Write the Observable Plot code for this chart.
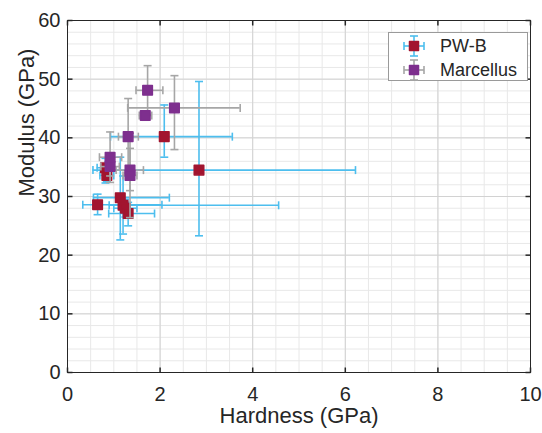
<!DOCTYPE html>
<html><head><meta charset="utf-8">
<script src="https://cdn.jsdelivr.net/npm/d3@7"></script>
<script src="https://cdn.jsdelivr.net/npm/@observablehq/plot@0.6"></script>
<style>
body{margin:0;background:#fff;font-family:"Liberation Sans",Arial,sans-serif;}
#wrap{position:relative;width:542px;height:433px;overflow:hidden;}
#legend{position:absolute;left:388px;top:32px;width:140px;height:49px;border:1px solid #9a9a9a;background:#fff;box-sizing:border-box;}
.row{position:absolute;left:0;height:24px;display:flex;align-items:center;}
.row span{font-size:18px;color:#262626;margin-left:13px;}
</style></head><body><div id="wrap"></div>
<script>
// PW-B (hardness x, modulus y) with error-bar bounds
const pwbX    = [2.09, 2.84, 0.65, 1.14, 1.20, 1.25, 1.31, 0.82, 0.85];
const pwbY    = [40.2, 34.5, 28.6, 29.8, 28.5, 28.0, 27.1, 34.9, 33.6];
const pwbXLo  = [0.93, 0.55, 0.33, 0.56, 0.90, 1.00, 0.89, 0.64, 0.70];
const pwbXHi  = [3.56, 6.22, 2.04, 2.20, 4.56, 1.50, 1.88, 1.00, 1.00];
const pwbYLo  = [36.7, 23.3, 26.9, 22.6, 23.6, 26.5, 25.0, 32.3, 32.5];
const pwbYHi  = [45.6, 49.6, 30.4, 36.7, 33.5, 29.5, 29.0, 36.5, 34.7];
// Marcellus
const marX    = [1.73, 2.31, 1.68, 1.31, 0.92, 0.92, 1.35, 1.35];
const marY    = [48.1, 45.1, 43.8, 40.2, 36.7, 35.1, 34.5, 33.6];
const marXLo  = [1.48, 1.30, 1.55, 1.10, 0.69, 0.72, 1.05, 1.20];
const marXHi  = [2.06, 3.73, 1.82, 1.53, 1.17, 1.12, 1.64, 1.50];
const marYLo  = [44.0, 38.0, 43.0, 34.0, 32.4, 33.5, 31.0, 26.4];
const marYHi  = [52.3, 50.6, 44.6, 46.7, 41.0, 36.7, 38.2, 40.8];

const seriesNames = ["PW-B", "Marcellus"];
const xTicks = [0, 2, 4, 6, 8, 10];
const yTicks = [0, 10, 20, 30, 40, 50, 60];
const xMinor = d3.range(0, 10.01, 0.5);
const yMinor = d3.range(0, 60.01, 2);

const BLUE = "#4DBEEE", RED = "#A2142F", GRAY = "#A6A6A6", PURPLE = "#7E2F8E", INK = "#262626";

const rows = (X, Y, XL, XH, YL, YH) => X.map((x, i) => ({x, y: Y[i], xlo: XL[i], xhi: XH[i], ylo: YL[i], yhi: YH[i]}));
const pwb = rows(pwbX, pwbY, pwbXLo, pwbXHi, pwbYLo, pwbYHi);
const mar = rows(marX, marY, marXLo, marXHi, marYLo, marYHi);

const capH = {draw(c, s){ const r = Math.sqrt(s/Math.PI); c.moveTo(-r,0); c.lineTo(r,0);} };
const capV = {draw(c, s){ const r = Math.sqrt(s/Math.PI); c.moveTo(0,-r); c.lineTo(0,r);} };
const tUp = {draw(c, s){ const r = Math.sqrt(s/Math.PI); c.moveTo(0,0); c.lineTo(0,-r);} };
const tDown = {draw(c, s){ const r = Math.sqrt(s/Math.PI); c.moveTo(0,0); c.lineTo(0,r);} };
const tRight = {draw(c, s){ const r = Math.sqrt(s/Math.PI); c.moveTo(0,0); c.lineTo(r,0);} };
const tLeft = {draw(c, s){ const r = Math.sqrt(s/Math.PI); c.moveTo(0,0); c.lineTo(-r,0);} };

function errMarks(data, lineColor, markColor) {
  return [
    Plot.ruleX(data, {x: "x", y1: "ylo", y2: "yhi", stroke: lineColor, strokeWidth: 1.6}),
    Plot.ruleY(data, {y: "y", x1: "xlo", x2: "xhi", stroke: lineColor, strokeWidth: 1.6}),
    Plot.dot(data, {x: "x", y: "ylo", symbol: capH, r: 4, stroke: lineColor, strokeWidth: 1.6}),
    Plot.dot(data, {x: "x", y: "yhi", symbol: capH, r: 4, stroke: lineColor, strokeWidth: 1.6}),
    Plot.dot(data, {x: "xlo", y: "y", symbol: capV, r: 4, stroke: lineColor, strokeWidth: 1.6}),
    Plot.dot(data, {x: "xhi", y: "y", symbol: capV, r: 4, stroke: lineColor, strokeWidth: 1.6}),
    Plot.dot(data, {x: "x", y: "y", symbol: "square", r: 5.4, fill: markColor, stroke: markColor, strokeWidth: 1.5, strokeLinejoin: "round"})
  ];
}

const chart = Plot.plot({
  width: 542, height: 433,
  marginLeft: 67, marginRight: 12, marginTop: 20, marginBottom: 61,
  x: {domain: [0, 10]},
  y: {domain: [0, 60]},
  style: {fontFamily: "'Liberation Sans', Arial, sans-serif", fontSize: "20px", color: INK, background: "#fff"},
  marks: [
    Plot.ruleX(xMinor, {x: d => d, stroke: "#e8e8e8", strokeWidth: 1}),
    Plot.ruleY(yMinor, {y: d => d, stroke: "#e8e8e8", strokeWidth: 1}),
    Plot.ruleX(xTicks, {x: d => d, stroke: "#d2d2d2", strokeWidth: 1}),
    Plot.ruleY(yTicks, {y: d => d, stroke: "#d2d2d2", strokeWidth: 1}),
    ...errMarks(pwb, BLUE, RED),
    ...errMarks(mar, GRAY, PURPLE),
    Plot.frame({stroke: INK, strokeWidth: 1}),
    Plot.dot(xTicks, {x: d => d, frameAnchor: "bottom", symbol: tUp, r: 5, stroke: INK}),
    Plot.dot(xTicks, {x: d => d, frameAnchor: "top", symbol: tDown, r: 5, stroke: INK}),
    Plot.dot(yTicks, {y: d => d, frameAnchor: "left", symbol: tRight, r: 5, stroke: INK}),
    Plot.dot(yTicks, {y: d => d, frameAnchor: "right", symbol: tLeft, r: 5, stroke: INK}),
    Plot.axisX(xTicks, {tickSize: 0, tickPadding: 14, label: null, fontSize: 20}),
    Plot.axisY(yTicks, {tickSize: 0, tickPadding: 7, label: null, fontSize: 20}),
    Plot.text(["Hardness (GPa)"], {frameAnchor: "bottom", dy: 50, fontSize: 22, fill: INK}),
    Plot.text(["Modulus (GPa)"], {frameAnchor: "left", dx: -41, rotate: -90, fontSize: 22, fill: INK})
  ]
});
const wrap = document.getElementById("wrap");
wrap.appendChild(chart);

// legend
const legendColors = [[BLUE, RED], [GRAY, PURPLE]];
const leg = document.createElement("div");
leg.id = "legend";
seriesNames.forEach((name, i) => {
  const [lc, mc] = legendColors[i];
  const row = document.createElement("div");
  row.className = "row";
  row.style.top = (i === 0 ? 1 : 25) + "px";
  row.style.left = "12px";
  row.innerHTML = `<svg width="26" height="24" viewBox="-13 -12 26 24">
    <line x1="-10" y1="0" x2="10" y2="0" stroke="${lc}" stroke-width="1.6"/>
    <line x1="0" y1="-10" x2="0" y2="10" stroke="${lc}" stroke-width="1.6"/>
    <line x1="-10" y1="-4" x2="-10" y2="4" stroke="${lc}" stroke-width="1.6"/>
    <line x1="10" y1="-4" x2="10" y2="4" stroke="${lc}" stroke-width="1.6"/>
    <line x1="-4" y1="-10" x2="4" y2="-10" stroke="${lc}" stroke-width="1.6"/>
    <line x1="-4" y1="10" x2="4" y2="10" stroke="${lc}" stroke-width="1.6"/>
    <rect x="-4.5" y="-4.5" width="9" height="9" fill="${mc}" stroke="${mc}" stroke-width="1.5" stroke-linejoin="round"/>
  </svg><span>${name}</span>`;
  leg.appendChild(row);
});
wrap.appendChild(leg);
</script>
</body></html>
